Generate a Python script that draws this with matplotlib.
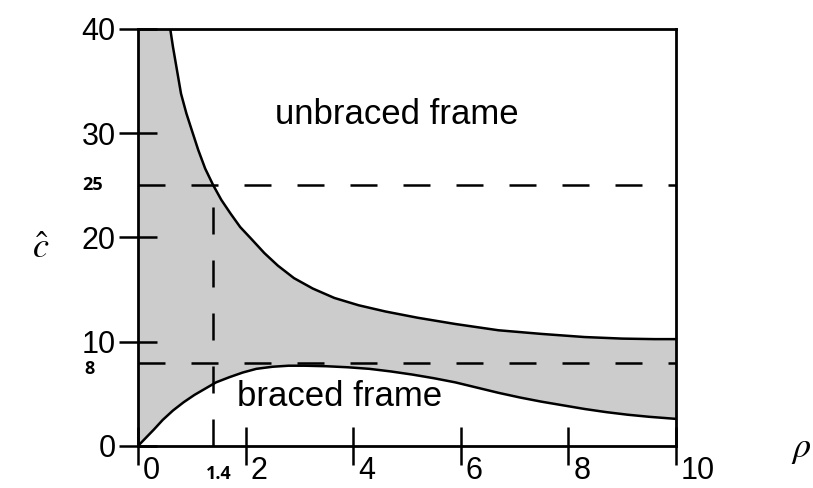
import numpy as np
import matplotlib
matplotlib.use("Agg")
import matplotlib.pyplot as plt
import matplotlib.transforms as mtransforms

plt.rcParams['font.family'] = ['Liberation Sans', 'DejaVu Sans']
plt.rcParams['mathtext.fontset'] = 'stix'

# upper boundary (unbraced frame)
x_unbraced = [0.60, 0.65, 0.72, 0.80, 0.90, 1.00, 1.12, 1.25, 1.40, 1.55, 1.72, 1.90,
              2.10, 2.35, 2.60, 2.90, 3.25, 3.65, 4.10, 4.60, 5.20, 5.90, 6.70, 7.50,
              8.30, 9.00, 9.60, 10.0]
y_unbraced = [40.0, 38.3, 36.2, 33.8, 31.9, 30.3, 28.4, 26.6, 25.0, 23.6, 22.3, 21.0,
              19.9, 18.5, 17.3, 16.1, 15.1, 14.2, 13.5, 12.9, 12.3, 11.7, 11.1, 10.75,
              10.45, 10.3, 10.25, 10.25]

# lower boundary (braced frame)
x_braced = [0.0, 0.15, 0.3, 0.46, 0.65, 0.85, 1.05, 1.25, 1.45, 1.7, 1.95, 2.2, 2.5,
            2.8, 3.1, 3.5, 3.9, 4.3, 4.7, 5.1, 5.5, 5.9, 6.3, 6.7, 7.1, 7.5, 7.9,
            8.3, 8.7, 9.1, 9.5, 10.0]
y_braced = [0.0, 0.8, 1.6, 2.5, 3.4, 4.2, 4.9, 5.5, 6.1, 6.6, 7.05, 7.4, 7.6,
            7.7, 7.7, 7.65, 7.55, 7.4, 7.15, 6.85, 6.5, 6.1, 5.6, 5.1, 4.65, 4.25, 3.9,
            3.55, 3.25, 3.0, 2.8, 2.6]

x_ticks = [0, 2, 4, 6, 8, 10]
y_ticks = [0, 10, 20, 30, 40]
rho_mark = 1.4
c_upper = 25
c_lower = 8

fig = plt.figure(figsize=(8.13, 4.88), dpi=100)
ax = fig.add_axes([0.1697, 0.0861, 0.6618, 0.8545])

# shaded region between curves (capped at 40 on the left)
poly_x = [0.0] + x_unbraced + x_braced[::-1]
poly_y = [40.0] + y_unbraced + y_braced[::-1]
ax.fill(poly_x, poly_y, color='#cccccc', lw=0, zorder=1)

ax.plot(x_unbraced, y_unbraced, color='black', lw=1.8, zorder=3)
ax.plot(x_braced, y_braced, color='black', lw=1.8, zorder=3)

dash = (0, (10.8, 10.4))
ax.plot([0, 10], [c_upper, c_upper], color='black', lw=1.8, linestyle=dash, zorder=2)
ax.plot([0, 10], [c_lower, c_lower], color='black', lw=1.8, linestyle=dash, zorder=2)
ax.plot([rho_mark, rho_mark], [0, c_upper], color='black', lw=1.8, linestyle=dash, zorder=2)

ax.set_xlim(0, 10)
ax.set_ylim(0, 40)
ax.set_xticks(x_ticks)
ax.set_yticks(y_ticks)
ax.set_xticklabels([str(v) for v in x_ticks])
ax.set_yticklabels([str(v) for v in y_ticks])

for s in ax.spines.values():
    s.set_linewidth(2.0)
    s.set_zorder(4)

ax.tick_params(axis='both', direction='inout', length=28, width=1.8, labelsize=22)
ax.tick_params(axis='y', pad=2)
ax.tick_params(axis='x', pad=-7)
for lab in ax.get_xticklabels():
    lab.set_horizontalalignment('left')
    lab.set_transform(lab.get_transform() + mtransforms.ScaledTranslation(5 / 100, 0, fig.dpi_scale_trans))

ax.text(4.81, 31.8, 'unbraced frame', fontsize=25, ha='center', va='center', zorder=5)
ax.text(3.74, 4.7, 'braced frame', fontsize=25, ha='center', va='center', zorder=5)

blend_y = mtransforms.blended_transform_factory(ax.transAxes, ax.transData)
blend_x = mtransforms.blended_transform_factory(ax.transData, ax.transAxes)
ax.text(-0.085, c_upper, str(c_upper), transform=blend_y, fontsize=13, fontweight='bold',
        family='Open Sans', ha='center', va='center')
ax.text(-0.09, c_lower - 0.6, str(c_lower), transform=blend_y, fontsize=13, fontweight='bold',
        family='Open Sans', ha='center', va='center')
ax.text(1.5, -0.068, str(rho_mark), transform=blend_x, fontsize=13, fontweight='bold',
        family='Open Sans', ha='center', va='center')

fig.text(0.05, 0.49, r'$\hat{c}$', fontsize=26, ha='center', va='center')
fig.text(0.985, 0.08, r'$\rho$', fontsize=26, ha='center', va='center')

fig.savefig('out.png', dpi=100)
